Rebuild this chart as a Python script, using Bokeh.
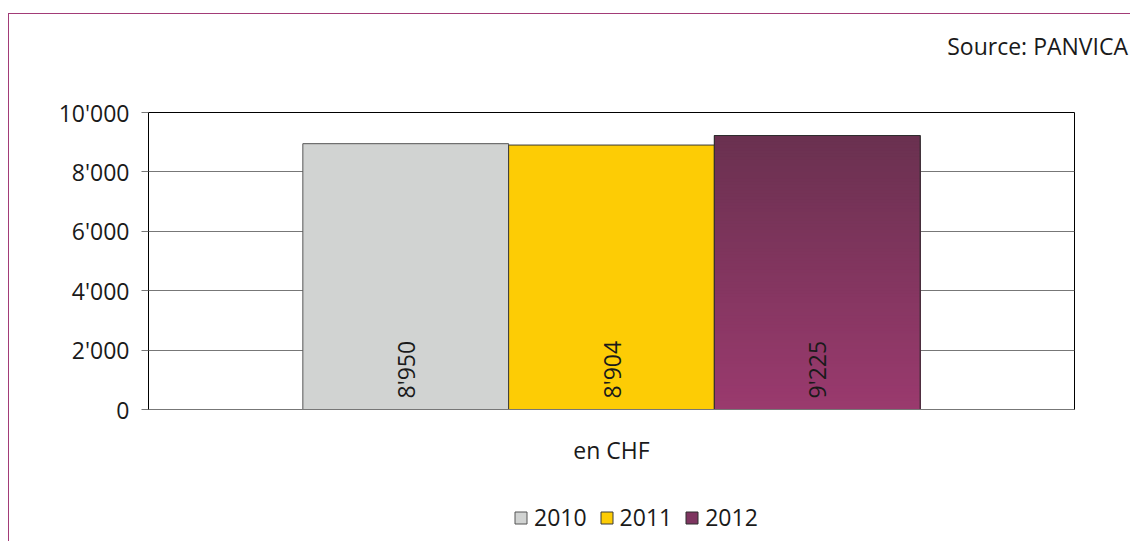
import numpy as np
from bokeh.plotting import figure
from bokeh.layouts import column
from bokeh.models import (FactorRange, Range1d, FixedTicker, Legend, LegendItem,
                          ColumnDataSource, Div)
from bokeh.transform import dodge
from bokeh.core.properties import value
from bokeh.embed import file_html
from bokeh.resources import INLINE

# ---- data ----
categories = ["en CHF"]
years = ["2010", "2011", "2012"]
values = [8950, 8904, 9225]
y_ticks = [0, 2000, 4000, 6000, 8000, 10000]
y_tick_labels = ["0", "2'000", "4'000", "6'000", "8'000", "10'000"]
source_text = "Source: PANVICA"

# ---- styles ----
FONT = "Open Sans"
FS = "23px"
TXT = "#1a1a1a"
fills = ["#d1d3d2", "#fdcc05", "#7e3560"]
outlines = ["#555555", "#3a3a3a", "#2e2e2e"]
grad_top = np.array([0x6a, 0x31, 0x50])
grad_bot = np.array([0x9a, 0x3a, 0x6e])
offsets = [-2 / 9, 0.0, 2 / 9]
bar_w = 2 / 9

# ---- source note (top strip) ----
head = Div(text=(f'<div style="display:block; width:1119px; text-align:right; '
                 f"padding:18px 0 0 0; margin:0; font-family:'{FONT}'; font-size:{FS}; "
                 f'line-height:28px; color:{TXT}; white-space:nowrap;">{source_text}</div>'),
           width=1121, height=50)
head.margin = (0, 0, 0, 0)

p = figure(x_range=FactorRange(factors=categories, range_padding=0),
           y_range=Range1d(0, 10000),
           width=1121, height=426, output_backend="svg", toolbar_location=None,
           min_border_left=139, min_border_right=56, min_border_top=48,
           min_border_bottom=81, outline_line_color="#000000")
p.title.visible = False

for i, (yr, v) in enumerate(zip(years, values)):
    src = ColumnDataSource(dict(x=categories, top=[v]))
    p.vbar(x=dodge("x", offsets[i], range=p.x_range), top="top", bottom=0,
           width=bar_w, source=src, fill_color=fills[i],
           line_color=outlines[i], line_width=1)

# gradient for 2012 bar (nested bars from 0, tallest first -> no seams)
N = 90
v = values[2]
tops, cols = [], []
for k in range(N, 0, -1):
    t = (k - 0.5) / N
    c = grad_bot * (1 - t) + grad_top * t
    tops.append(v * k / N)
    cols.append("#%02x%02x%02x" % tuple(int(round(x)) for x in c))
gsrc = ColumnDataSource(dict(x=categories * N, top=tops, color=cols))
p.vbar(x=dodge("x", offsets[2], range=p.x_range), top="top", bottom=0,
       width=bar_w, source=gsrc, fill_color="color", line_color=None)
osrc = ColumnDataSource(dict(x=categories, top=[v]))
p.vbar(x=dodge("x", offsets[2], range=p.x_range), top="top", bottom=0,
       width=bar_w, source=osrc, fill_color=None, line_color=outlines[2], line_width=1)

# value labels
for i, v in enumerate(values):
    lsrc = ColumnDataSource(dict(x=categories, y=[0], t=[f"{v:,}".replace(",", "'")]))
    p.text(x=dodge("x", offsets[i], range=p.x_range), y="y", text="t", source=lsrc,
           angle=np.pi / 2, text_align="left", text_baseline="middle",
           y_offset=-11, text_font=value(FONT), text_font_size=FS, text_color=TXT)

# axes
p.yaxis.ticker = FixedTicker(ticks=y_ticks)
p.yaxis.major_label_overrides = {t: l for t, l in zip(y_ticks, y_tick_labels)}
p.yaxis.major_label_text_font = FONT
p.yaxis.major_label_text_font_size = FS
p.yaxis.major_label_text_color = TXT
p.yaxis.axis_line_color = "#000000"
p.yaxis.major_tick_line_color = "#777777"
p.yaxis.major_tick_in = 0
p.yaxis.major_tick_out = 7
p.yaxis.minor_tick_line_color = None
p.yaxis.major_label_standoff = 12

p.xaxis.major_label_text_font = FONT
p.xaxis.major_label_text_font_size = FS
p.xaxis.major_label_text_color = TXT
p.xaxis.axis_line_color = "#777777"
p.xaxis.major_tick_line_color = None
p.xaxis.minor_tick_line_color = None
p.xaxis.major_label_standoff = 18

p.xgrid.grid_line_color = None
p.ygrid.grid_line_color = "#777777"
p.ygrid.grid_line_width = 1

# ---- legend strip (separate figure below) ----
lp = figure(width=1121, height=51, output_backend="svg", toolbar_location=None,
            x_range=Range1d(0, 1), y_range=Range1d(0, 1),
            x_axis_type=None, y_axis_type=None,
            min_border_left=0, min_border_right=0, min_border_top=0, min_border_bottom=0)
lp.outline_line_color = None
lp.xgrid.visible = False
lp.ygrid.visible = False
items = []
for i, yr in enumerate(years):
    # a tiny bar hidden under the legend box, only so that the legend draws its swatch
    r = lp.vbar(x=[0.5], bottom=[0.5], top=[0.5001], width=0.0001, fill_color=fills[i],
                line_color=None)
    r.glyph.line_color = outlines[i]
    r.glyph.line_width = 1
    items.append(LegendItem(label=yr, renderers=[r]))
legend = Legend(items=items, orientation="horizontal", location=(365, 8),
                border_line_color=None, background_fill_color="#ffffff",
                background_fill_alpha=1,
                label_text_font=FONT, label_text_font_size=FS, label_text_color=TXT,
                glyph_width=15, glyph_height=15, label_standoff=6, spacing=12,
                padding=0, margin=0)
lp.add_layout(legend, "center")

layout = column(head, p, lp, spacing=0)
layout.margin = (13, 0, 0, 8)
layout.styles = {"border-top": "1px solid #a23b77", "border-left": "1px solid #a23b77"}

open("out.html", "w").write(file_html(layout, INLINE))
